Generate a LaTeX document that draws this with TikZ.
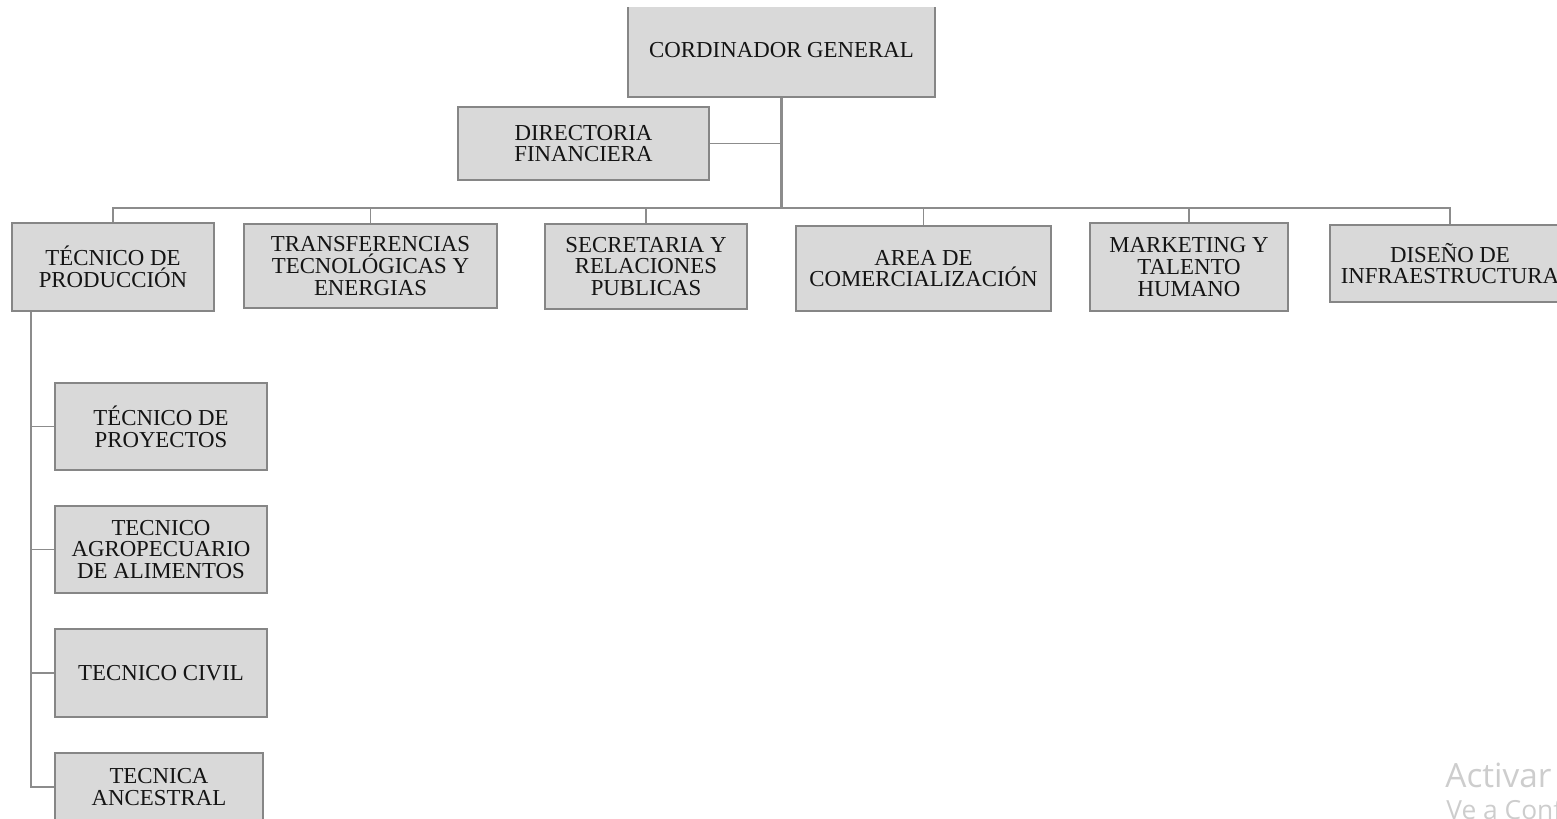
\documentclass[tikz,border=0pt]{standalone}
\usepackage{fontspec}
\setmainfont{Liberation Serif}
\newfontfamily\wmfont{Open Sans}
\usepackage{tikz}
\usepackage{color}
\definecolor{boxfill}{HTML}{D9D9D9}
\definecolor{boxline}{HTML}{868686}
\definecolor{wireline}{HTML}{8C8C8C}
\definecolor{inkgray}{HTML}{141414}
\definecolor{wmgray}{HTML}{CDCDCD}

\begin{document}
\begin{tikzpicture}[x=0.02cm,y=-0.02cm,
  box/.style={draw=boxline,fill=boxfill,line width=1.1pt,align=center,inner sep=0pt,
    text=inkgray,font=\fontsize{13}{12.3}\selectfont},
  wire/.style={draw=wireline,line width=0.85pt},
  trunk/.style={draw=wireline,line width=1.7pt}]
\useasboundingbox (0,0) rectangle (1557,818);
\clip (0,7) rectangle (1557,818);

\node[box,minimum width=6.14cm,minimum height=1.88cm] (cg) at (781.5,50) {CORDINADOR GENERAL};
\node[box,minimum width=5.02cm,minimum height=1.46cm] (df) at (583.5,143.5) {DIRECTORIA\\FINANCIERA};

\node[box,minimum width=4.04cm,minimum height=1.76cm] (tp) at (113,267) {TÉCNICO DE\\PRODUCCIÓN};
\node[box,minimum width=5.06cm,minimum height=1.68cm] (tt) at (370.5,266) {TRANSFERENCIAS\\TECNOLÓGICAS Y\\ENERGIAS};
\node[box,minimum width=4.04cm,minimum height=1.70cm] (sr) at (646,266.5) {SECRETARIA Y\\RELACIONES\\PUBLICAS};
\node[box,minimum width=5.10cm,minimum height=1.70cm] (ac) at (923.5,268.5) {AREA DE\\COMERCIALIZACIÓN};
\node[box,minimum width=3.96cm,minimum height=1.76cm] (mk) at (1189,267) {MARKETING Y\\TALENTO\\HUMANO};
\node[box,minimum width=4.80cm,minimum height=1.54cm] (di) at (1450,263.5) {DISEÑO DE\\INFRAESTRUCTURA};

\node[box,minimum width=4.24cm,minimum height=1.74cm] (p1) at (161,426.5) {TÉCNICO DE\\PROYECTOS};
\node[box,minimum width=4.24cm,minimum height=1.74cm] (p2) at (161,549.5) {TECNICO\\AGROPECUARIO\\DE ALIMENTOS};
\node[box,minimum width=4.24cm,minimum height=1.76cm] (p3) at (161,673) {TECNICO CIVIL};
\node[box,minimum width=4.16cm,minimum height=1.36cm] (p4) at (159,787) {TECNICA\\ANCESTRAL};

\coordinate (hub) at ([yshift=-2.2cm]cg.south);
\coordinate (spine) at ([xshift=0.4cm]tp.south west);

\draw[wire] (df.east) -- (cg.south |- df.east);
\foreach \n in {tp,tt,sr,ac,mk,di}
  \draw[wire] (hub) -| (\n.north);
\draw[trunk] (cg.south) -- (hub);
\foreach \n in {p1,p2,p3,p4}
  \draw[wire] (spine) |- (\n.west);

\node[anchor=base west,inner sep=0pt,text=wmgray,font=\wmfont\fontsize{19}{20}\selectfont] (wm) at (1445,787) {Activar};
\node[anchor=base west,inner sep=0pt,text=wmgray,font=\wmfont\fontsize{15}{16}\selectfont] (wm2) at (1446,819) {Ve a Configuración};
\end{tikzpicture}
\end{document}
